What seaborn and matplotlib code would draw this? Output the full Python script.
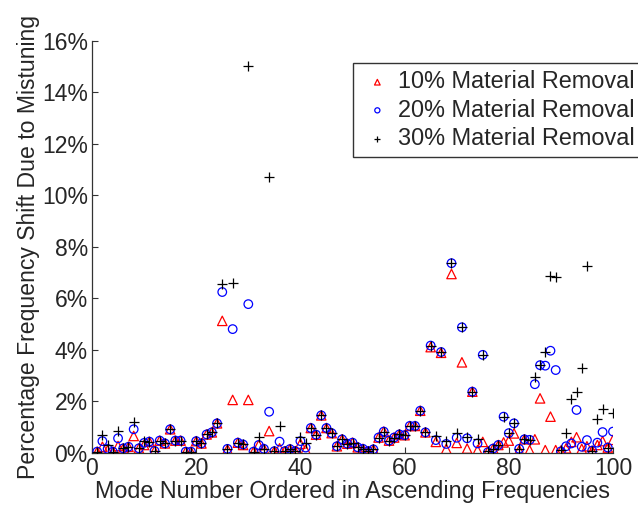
import numpy as np
import pandas as pd
import matplotlib
matplotlib.use("Agg")
import matplotlib.pyplot as plt
import seaborn as sns

modes = list(range(1, 101))

removal_10 = [0.04, 0.23, 0.10, 0.04, 0.26, 0.17, 0.23, 0.65, 0.17, 0.30,
              0.43, 0.07, 0.47, 0.36, 0.91, 0.47, 0.47, 0.04, 0.04, 0.45,
              0.36, 0.71, 0.79, 1.14, 5.12, 0.13, 2.05, 0.39, 0.30, 2.05,
              0.04, 0.30, 0.15, 0.84, 0.06, 0.17, 0.06, 0.14, 0.06, 0.35,
              0.12, 0.96, 0.70, 1.45, 0.96, 0.76, 0.25, 0.52, 0.35, 0.39,
              0.21, 0.15, 0.06, 0.13, 0.59, 0.82, 0.47, 0.59, 0.71, 0.68,
              1.04, 1.04, 1.63, 0.79, 4.10, 0.42, 3.88, 0.15, 6.94, 0.38,
              3.51, 0.16, 2.37, 0.10, 0.42, 0.05, 0.16, 0.30, 0.40, 0.47,
              0.75, 0.10, 0.52, 0.10, 0.52, 2.11, 0.10, 1.40, 0.10, 0.08,
              0.17, 0.42, 0.60, 0.15, 0.25, 0.08, 0.30, 0.45, 0.20, 0.50]

removal_20 = [0.04, 0.45, 0.15, 0.04, 0.56, 0.17, 0.23, 0.91, 0.17, 0.38,
              0.43, 0.07, 0.47, 0.36, 0.91, 0.47, 0.47, 0.04, 0.04, 0.45,
              0.36, 0.71, 0.79, 1.14, 6.24, 0.15, 4.80, 0.39, 0.32, 5.77,
              0.04, 0.30, 0.15, 1.59, 0.06, 0.43, 0.06, 0.14, 0.06, 0.45,
              0.20, 0.96, 0.70, 1.45, 0.96, 0.76, 0.25, 0.52, 0.35, 0.39,
              0.21, 0.15, 0.06, 0.13, 0.59, 0.82, 0.47, 0.59, 0.71, 0.68,
              1.04, 1.04, 1.63, 0.79, 4.16, 0.49, 3.91, 0.34, 7.36, 0.58,
              4.87, 0.56, 2.37, 0.36, 3.80, 0.02, 0.16, 0.30, 1.40, 0.76,
              1.14, 0.15, 0.52, 0.50, 2.66, 3.40, 3.38, 3.96, 3.21, 0.05,
              0.25, 0.36, 1.66, 0.23, 0.49, 0.08, 0.39, 0.80, 0.20, 0.82]

removal_30 = [0.04, 0.69, 0.30, 0.04, 0.85, 0.20, 0.23, 1.20, 0.17, 0.45,
              0.43, 0.07, 0.47, 0.36, 0.91, 0.47, 0.47, 0.04, 0.04, 0.45,
              0.36, 0.71, 0.79, 1.14, 6.55, 0.15, 6.59, 0.39, 0.32, 15.00,
              0.04, 0.62, 0.15, 10.70, 0.06, 1.02, 0.06, 0.14, 0.06, 0.62,
              0.36, 0.96, 0.70, 1.45, 0.96, 0.76, 0.25, 0.52, 0.35, 0.39,
              0.21, 0.15, 0.06, 0.13, 0.59, 0.82, 0.47, 0.59, 0.71, 0.68,
              1.04, 1.04, 1.63, 0.79, 4.16, 0.65, 3.91, 0.46, 7.36, 0.78,
              4.87, 0.62, 2.37, 0.52, 3.80, 0.07, 0.16, 0.30, 1.40, 0.78,
              1.14, 0.15, 0.52, 0.50, 2.93, 3.40, 3.90, 6.86, 6.81, 0.10,
              0.78, 2.07, 2.37, 3.28, 7.26, 0.08, 1.30, 1.69, 0.20, 1.53]

series_labels = ["10% Material Removal", "20% Material Removal", "30% Material Removal"]
x_ticks = [0, 20, 40, 60, 80, 100]
y_ticks = [0, 2, 4, 6, 8, 10, 12, 14, 16]
y_tick_labels = ["0%", "2%", "4%", "6%", "8%", "10%", "12%", "14%", "16%"]

sns.set_theme(style="white")
plt.rcParams["font.family"] = ["Liberation Sans", "DejaVu Sans"]
plt.rcParams["xtick.direction"] = "in"
plt.rcParams["ytick.direction"] = "in"

fig = plt.figure(figsize=(6.38, 5.08), dpi=100)
ax = fig.add_axes([92 / 638, 1 - 452.7 / 508, (613 - 92) / 638, (452.7 - 40.7) / 508])

df = pd.DataFrame({"mode": modes, "r10": removal_10, "r20": removal_20, "r30": removal_30})

sns.scatterplot(data=df, x="mode", y="r10", marker="^", s=46, facecolors="none",
                edgecolor="#ff0000", linewidth=0.9, ax=ax, label=series_labels[0], zorder=3)
sns.scatterplot(data=df, x="mode", y="r20", marker="o", s=38, facecolors="none",
                edgecolor="#0000ff", linewidth=0.9, ax=ax, label=series_labels[1], zorder=4)
sns.scatterplot(data=df, x="mode", y="r30", marker="+", s=45, color="black",
                linewidth=0.9, ax=ax, label=series_labels[2], zorder=5)

ax.set_xlim(0, 100)
ax.set_ylim(0, 16)
ax.set_xticks(x_ticks)
ax.set_xticklabels([str(t) for t in x_ticks])
ax.set_yticks(y_ticks)
ax.set_yticklabels(y_tick_labels)
ax.tick_params(axis="both", which="both", direction="in", length=4, width=0.8,
               color="#333333", labelsize=16.5, pad=3, left=True, bottom=True)

for side in ["top", "right"]:
    ax.spines[side].set_visible(False)
for side in ["left", "bottom"]:
    ax.spines[side].set_color("#333333")
    ax.spines[side].set_linewidth(0.9)

ax.set_xlabel("Mode Number Ordered in Ascending Frequencies", fontsize=16.8, labelpad=0)
ax.set_ylabel("Percentage Frequency Shift Due to Mistuning", fontsize=16.6, labelpad=1)

leg = ax.legend(loc="upper left", bbox_to_anchor=(352.7 / 638, 1 - 63.3 / 508),
                bbox_transform=fig.transFigure, frameon=True, fancybox=False,
                edgecolor="black", fontsize=16.9, markerscale=0.6, handletextpad=0.12,
                borderpad=0.3, labelspacing=0.22, handlelength=1.5, borderaxespad=0)
leg.get_frame().set_linewidth(1.0)

fig.savefig("out.png", dpi=100)
